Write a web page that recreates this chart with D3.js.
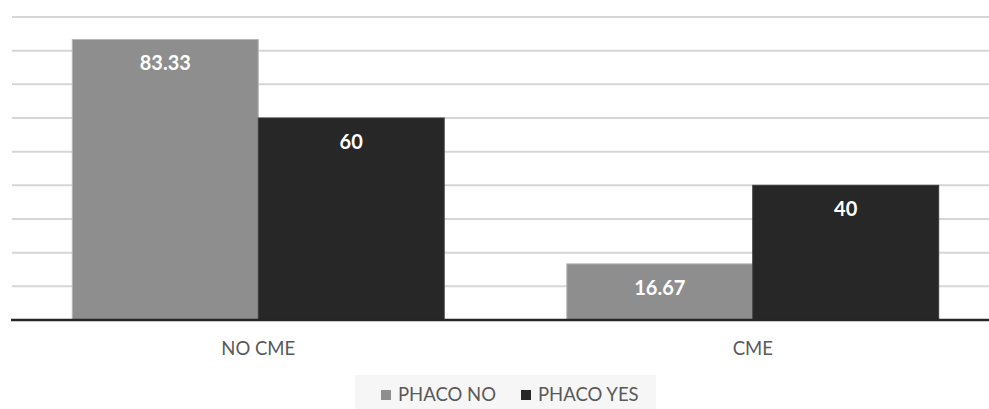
<!DOCTYPE html>
<html>
<head>
<meta charset="utf-8">
<script src="https://cdn.jsdelivr.net/npm/d3@7"></script>
<style>
  html, body { margin: 0; padding: 0; background: #fff; }
  svg { display: block; }
</style>
</head>
<body>
<svg id="chart" width="989" height="409"></svg>
<script>
// Chart data
const categories = ["NO CME", "CME"];
const seriesNames = ["PHACO NO", "PHACO YES"];
const phacoNo = [83.33, 16.67];
const phacoYes = [60, 40];
const gridTicks = [0, 10, 20, 30, 40, 50, 60, 70, 80, 90];

const colors = { "PHACO NO": "#8e8e8e", "PHACO YES": "#272727" };
const fontFamily = "Lato, 'Open Sans', 'Liberation Sans', sans-serif";

const svg = d3.select("#chart");
const width = 989, height = 409;
const plot = { left: 11, right: 1000, top: 17, bottom: 320 };

const x = d3.scaleBand().domain(categories).range([plot.left, plot.right]).paddingInner(0).paddingOuter(0);
const groupWidth = x.bandwidth() * 0.752;
const xs = d3.scaleBand().domain(seriesNames).range([0, groupWidth]).padding(0);
const y = d3.scaleLinear().domain([0, 90]).range([plot.bottom, plot.top]);

// Horizontal gridlines
svg.append("g")
  .selectAll("line")
  .data(gridTicks.filter(t => t > 0))
  .join("line")
  .attr("x1", 12).attr("x2", width)
  .attr("y1", d => y(d)).attr("y2", d => y(d))
  .attr("stroke", "#d6d6d6").attr("stroke-width", 2);

// Bars
const rows = categories.map((c, i) => ({
  cat: c,
  values: [{ s: "PHACO NO", v: phacoNo[i] }, { s: "PHACO YES", v: phacoYes[i] }]
}));

const groups = svg.append("g").selectAll("g")
  .data(rows).join("g")
  .attr("transform", d => `translate(${x(d.cat) + (x.bandwidth() - groupWidth) / 2},0)`);

groups.selectAll("rect")
  .data(d => d.values)
  .join("rect")
  .attr("x", d => xs(d.s))
  .attr("width", xs.bandwidth())
  .attr("y", d => y(d.v))
  .attr("height", d => y(0) - y(d.v))
  .attr("fill", d => colors[d.s])
  .attr("stroke", d => d.s === "PHACO NO" ? "#b4b4b4" : "#3a3a3a")
  .attr("stroke-width", 1);

// Value labels inside bars
groups.selectAll("text")
  .data(d => d.values)
  .join("text")
  .attr("x", d => xs(d.s) + xs.bandwidth() / 2)
  .attr("y", d => y(d.v) + 31)
  .attr("text-anchor", "middle")
  .attr("fill", "#fff")
  .attr("font-family", fontFamily)
  .attr("font-weight", "bold")
  .attr("font-size", 20)
  .text(d => d.v);

// Baseline
svg.append("line")
  .attr("x1", 11).attr("x2", width)
  .attr("y1", y(0)).attr("y2", y(0))
  .attr("stroke", "#262626").attr("stroke-width", 2.5);

// Category axis labels
const xAxis = d3.axisBottom(x).tickSize(0).tickPadding(0);
const axisG = svg.append("g").attr("transform", `translate(0,${y(0)})`).call(xAxis);
axisG.select(".domain").remove();
axisG.selectAll("text")
  .attr("y", 35)
  .attr("dy", 0)
  .attr("fill", "#595959")
  .attr("font-family", fontFamily)
  .attr("font-size", 18.5);

// Legend
const legend = svg.append("g");
legend.append("rect")
  .attr("x", 355).attr("y", 375).attr("width", 301).attr("height", 34)
  .attr("fill", "#f6f6f6");
const legendItems = [
  { s: "PHACO NO", x: 381 },
  { s: "PHACO YES", x: 521 }
];
const li = legend.selectAll("g.item").data(legendItems).join("g").attr("class", "item");
li.append("rect")
  .attr("x", d => d.x).attr("y", 390).attr("width", 10).attr("height", 10)
  .attr("fill", d => colors[d.s]);
li.append("text")
  .attr("x", d => d.x + 17).attr("y", 401)
  .attr("fill", "#595959")
  .attr("font-family", fontFamily)
  .attr("font-size", 18.5)
  .text(d => d.s);
</script>
</body>
</html>
